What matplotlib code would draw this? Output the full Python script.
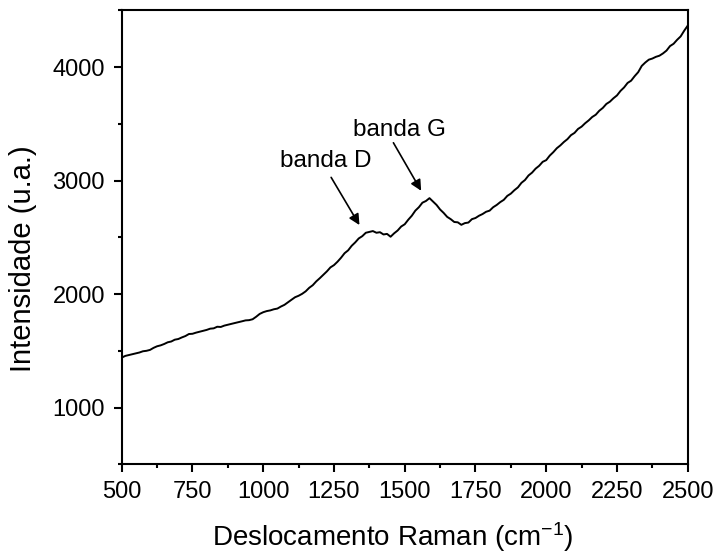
import matplotlib
matplotlib.use("Agg")
import matplotlib.pyplot as plt
from matplotlib.ticker import MultipleLocator

plt.rcParams['font.family'] = ['Liberation Sans', 'DejaVu Sans']
plt.rcParams['mathtext.fontset'] = 'custom'
plt.rcParams['mathtext.rm'] = 'Liberation Sans'
plt.rcParams['mathtext.it'] = 'Liberation Sans'

# espectro Raman (cm-1, u.a.), passo de 12.5 cm-1
raman_shift = [500 + 12.5 * i for i in range(161)]
intensity = [
    1440, 1455, 1462, 1470, 1478, 1485, 1496, 1500, 1508, 1526,
    1540, 1548, 1560, 1575, 1582, 1598, 1604, 1618, 1630, 1648,
    1650, 1660, 1668, 1676, 1684, 1695, 1698, 1712, 1710, 1722,
    1730, 1738, 1745, 1752, 1760, 1768, 1770, 1778, 1800, 1825,
    1840, 1850, 1856, 1866, 1872, 1890, 1905, 1928, 1950, 1972,
    1985, 2002, 2024, 2055, 2078, 2112, 2140, 2170, 2200, 2235,
    2255, 2285, 2320, 2360, 2385, 2425, 2455, 2490, 2510, 2540,
    2548, 2555, 2540, 2545, 2525, 2530, 2505, 2535, 2560, 2595,
    2615, 2655, 2690, 2735, 2765, 2805, 2820, 2845, 2815, 2785,
    2745, 2715, 2680, 2660, 2635, 2632, 2610, 2625, 2630, 2660,
    2670, 2690, 2705, 2725, 2735, 2765, 2785, 2810, 2830, 2865,
    2885, 2915, 2940, 2980, 3005, 3045, 3070, 3105, 3130, 3165,
    3180, 3220, 3250, 3285, 3310, 3340, 3365, 3400, 3420, 3455,
    3475, 3505, 3530, 3560, 3580, 3615, 3640, 3675, 3695, 3725,
    3750, 3790, 3820, 3860, 3880, 3920, 3955, 4010, 4040, 4065,
    4075, 4090, 4100, 4120, 4145, 4185, 4205, 4240, 4270, 4320,
    4365,
]

fig = plt.figure(figsize=(7.19, 5.54), dpi=100)
ax = fig.add_axes([0.1693, 0.1619, 0.7872, 0.8195])

ax.plot(raman_shift, intensity, color='black', lw=1.4)

ax.set_xlim(500, 2500)
ax.set_ylim(500, 4500)
ax.xaxis.set_major_locator(MultipleLocator(250))
ax.xaxis.set_minor_locator(MultipleLocator(125))
ax.yaxis.set_minor_locator(MultipleLocator(500))
ax.set_yticks([1000, 2000, 3000, 4000])

for s in ax.spines.values():
    s.set_linewidth(1.5)
ax.tick_params(which='both', direction='out', width=1.5, labelsize=17, top=False, right=False)
ax.tick_params(which='major', length=6, pad=6)
ax.tick_params(which='minor', length=3)

ax.set_xlabel(r'Deslocamento Raman (cm$^{-1}$)', fontsize=20, va='baseline')
ax.xaxis.set_label_coords(0.479, -0.18)
ax.set_ylabel('Intensidade (u.a.)', fontsize=21, va='center')
ax.yaxis.set_label_coords(-0.174, 0.452)

arrow = dict(arrowstyle='-|>', color='black', lw=1.2, mutation_scale=16, shrinkA=0, shrinkB=0)
ax.annotate('', xy=(1340, 2608), xytext=(1240, 3028), arrowprops=arrow)
ax.annotate('', xy=(1558, 2910), xytext=(1460, 3333), arrowprops=arrow)
ax.text(1220, 3168, 'banda D', fontsize=17.5, ha='center', va='center')
ax.text(1480, 3445, 'banda G', fontsize=17.5, ha='center', va='center')

fig.savefig('out.png', dpi=100)
